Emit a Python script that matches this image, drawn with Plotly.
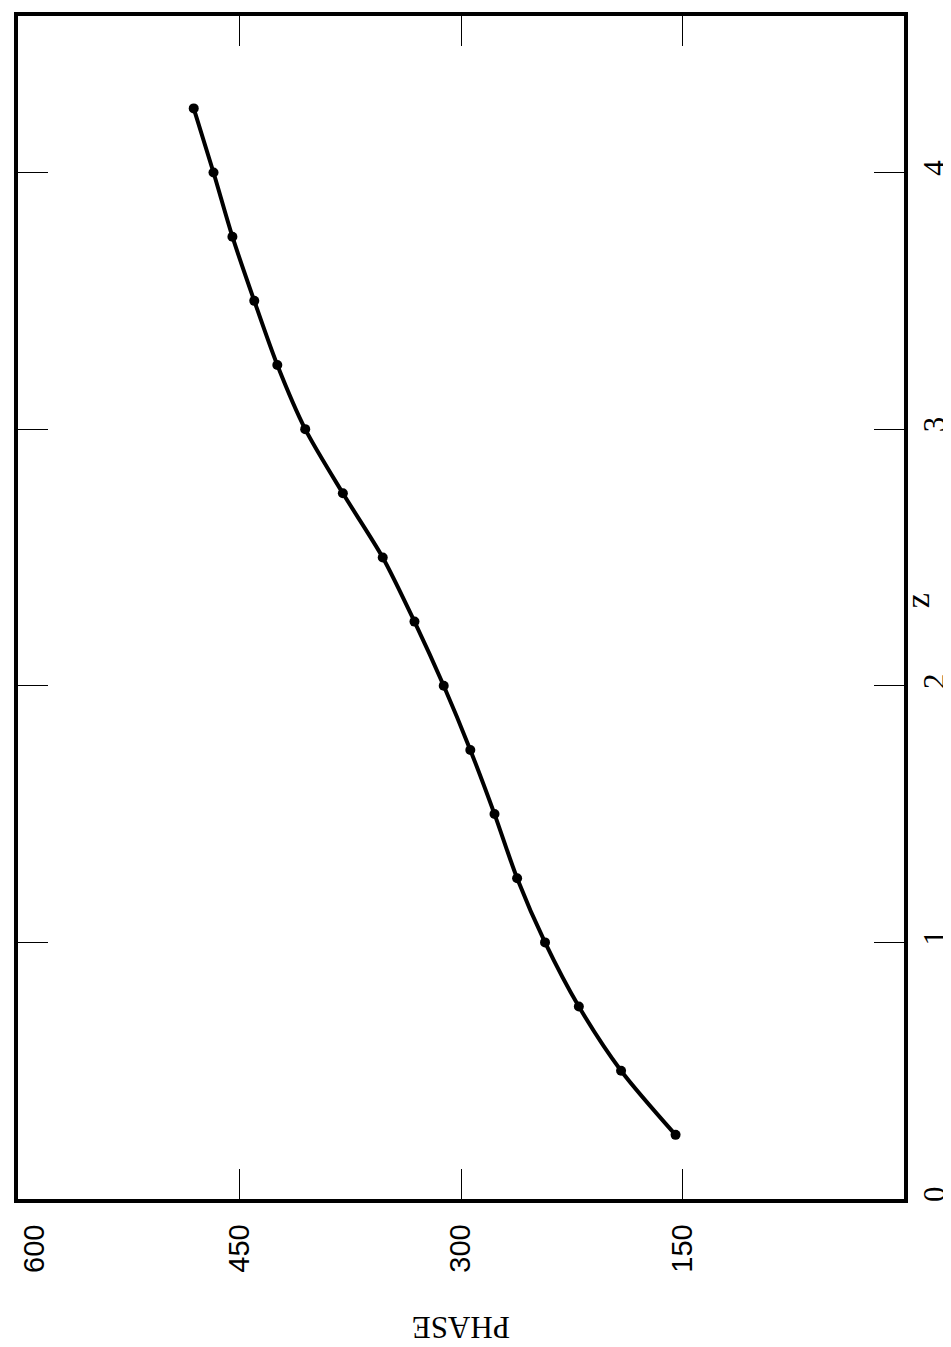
import plotly.graph_objects as go

# Data
z_values = [0.25, 0.5, 0.75, 1.0, 1.25, 1.5, 1.75, 2.0, 2.25, 2.5, 2.75, 3.0, 3.25, 3.5, 3.75, 4.0, 4.25]
phase_values = [154.7, 191.6, 220.2, 243.1, 262.0, 277.3, 293.7, 311.7, 331.5, 353.0,
                380.0, 405.5, 424.4, 440.0, 454.8, 467.6, 481.0]

phase_ticks = [150, 300, 450, 600]
phase_ticktext = ["150", "300", "450", ""]  # 600 label drawn as annotation (kept inside page)
z_ticks = [0, 1, 2, 3, 4]

fig = go.Figure()
fig.add_trace(go.Scatter(
    x=phase_values, y=z_values,
    mode="lines+markers",
    line=dict(color="black", width=4, shape="spline", smoothing=0.8),
    marker=dict(color="black", size=10),
    showlegend=False,
))

fig.update_layout(
    width=951, height=1347,
    margin=dict(l=10, r=55, t=8, b=156),
    plot_bgcolor="white", paper_bgcolor="white",
    xaxis=dict(
        range=[600, 0],
        tickvals=phase_ticks,
        ticktext=phase_ticktext,
        tickangle=-90,
        ticks="inside", ticklen=30, tickwidth=1, tickcolor="black",
        showline=True, linecolor="black", linewidth=3.5, mirror="ticks",
        showgrid=False, zeroline=False, automargin=False,
        ticklabeloverflow="allow",
        tickfont=dict(family="Liberation Sans", size=29, color="black"),
        ticklabelstandoff=10,
    ),
    yaxis=dict(
        range=[0, 4.61],
        side="right",
        tickvals=z_ticks,
        ticktext=[str(v) for v in z_ticks],
        tickangle=-90,
        ticks="inside", ticklen=30, tickwidth=1, tickcolor="black",
        showline=True, linecolor="black", linewidth=3.5, mirror="ticks",
        showgrid=False, zeroline=False, automargin=False,
        ticklabeloverflow="allow",
        tickfont=dict(family="Liberation Serif", size=31, color="black"),
        ticklabelstandoff=0,
    ),
    annotations=[
        dict(text=str(phase_ticks[-1]), x=phase_ticks[-1], y=0, xref="x", yref="paper",
             yanchor="top", xanchor="left", yshift=-24, xshift=-2,
             showarrow=False, textangle=-90,
             font=dict(family="Liberation Sans", size=29, color="black")),
        dict(text="PHASE", x=300, y=-0.125, xref="x", yref="paper",
             showarrow=False, textangle=180,
             font=dict(family="Liberation Serif", size=31, color="black")),
        dict(text="z", x=1.038, y=2.33, xref="paper", yref="y",
             showarrow=False, textangle=-90,
             font=dict(family="Liberation Serif", size=34, color="black")),
    ],
)

fig.write_html("out.html")
